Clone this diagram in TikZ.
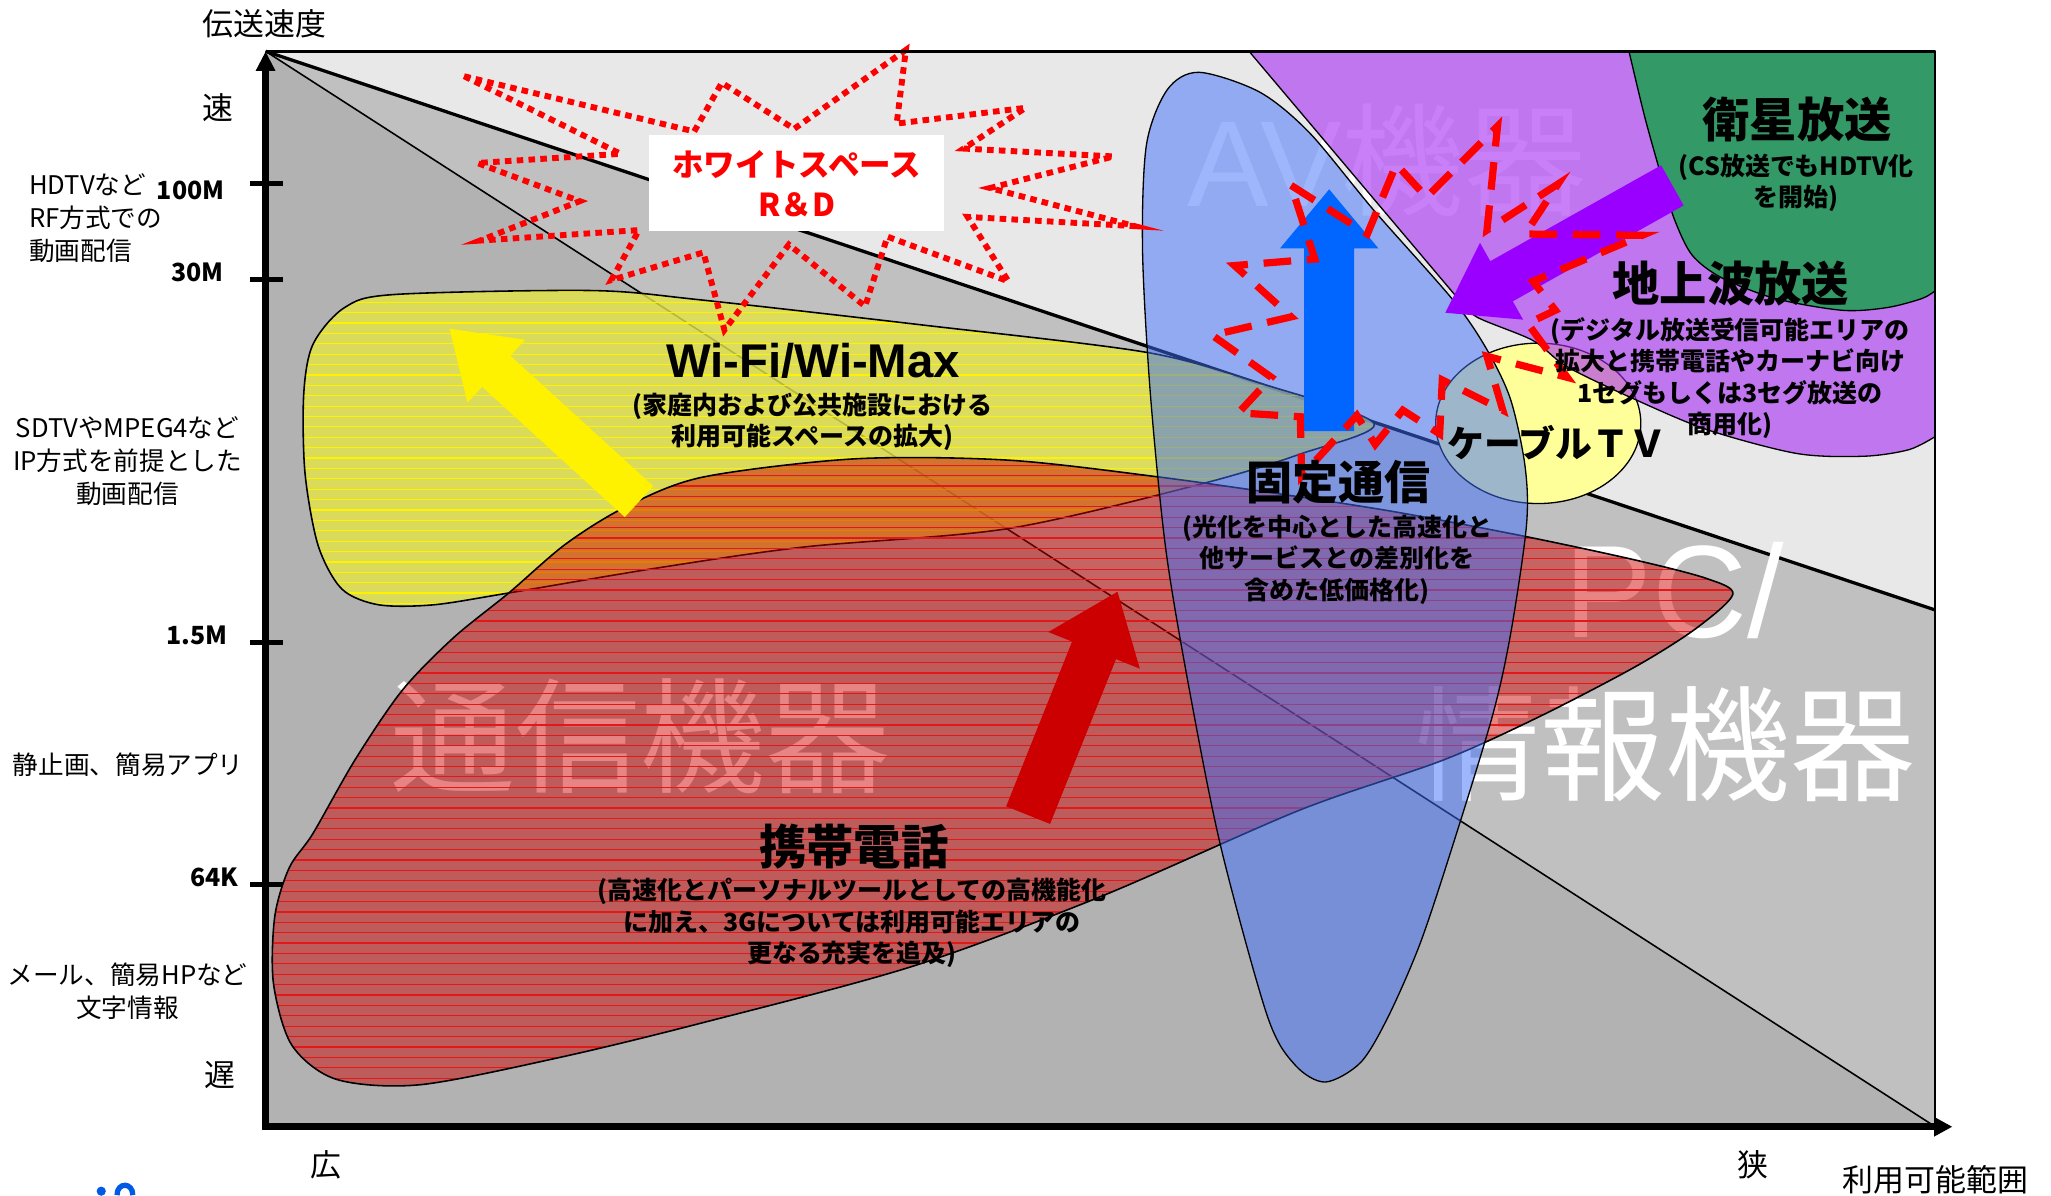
\documentclass[tikz,border=0pt]{standalone}
\usepackage{fontspec}
\setmainfont{Noto Sans CJK JP}
\newfontfamily\latinfont{Liberation Sans}
\usetikzlibrary{arrows.meta}

\definecolor{bglight}{RGB}{232,232,232}
\definecolor{bgmid}{RGB}{192,192,192}
\definecolor{bgdark}{RGB}{178,178,178}
\definecolor{wifiyellow}{RGB}{228,228,70}
\definecolor{mobilered}{RGB}{205,0,0}
\definecolor{stripered}{RGB}{225,25,25}
\definecolor{fixedblue}{RGB}{60,110,250}
\definecolor{avpurple}{RGB}{165,42,242}
\definecolor{satgreen}{RGB}{51,153,102}
\definecolor{cablecream}{RGB}{255,255,153}
\definecolor{arrowred}{RGB}{204,0,0}
\definecolor{arrowblue}{RGB}{0,102,255}
\definecolor{arrowpurple}{RGB}{153,0,255}
\definecolor{logoblue}{RGB}{0,90,230}

\tikzset{
  axistext/.style={font=\fontsize{23.5}{28}\selectfont, inner sep=0pt},
  sidetext/.style={font=\fontsize{19.5}{25}\selectfont, inner sep=0pt, align=center},
  ticktext/.style={font=\bfseries\fontsize{19}{22}\selectfont, inner sep=0pt},
  headtext/.style={font=\bfseries\fontsize{36}{40}\selectfont, inner sep=0pt},
  notetext/.style={font=\bfseries\fontsize{19}{24}\selectfont, inner sep=0pt, align=center},
  watermark/.style={text=white, inner sep=0pt, font=\fontsize{95}{95}\selectfont},
  region/.style={draw=black, line width=1.2pt},
  burst/.style={draw=red, line width=4.5pt, dash pattern=on 5pt off 4pt, line join=miter, miter limit=10},
  bigburst/.style={draw=red, line width=5.5pt, dash pattern=on 21pt off 12pt, line join=miter},
  redstripe/.style={draw=stripered, line width=0.9pt},
  yellowstripe/.style={draw=yellow, line width=0.9pt},
  axisline/.style={line width=5pt, line join=miter},
}

% tail x, tail y, angle, length, shaft half, head half, head length, colour
\newcommand{\fatarrow}[8]{%
  \fill[#8, shift={(#1,#2)}, rotate=#3]
    (0,-#5) -- ({#4-#7},-#5) -- ({#4-#7},-#6) -- (#4,0) -- ({#4-#7},#6) -- ({#4-#7},#5) -- (0,#5) -- cycle;}

\def\wifiblob{plot[smooth cycle] coordinates {(300,224) (450,221) (532,228) (700,247) (872,268) (960,292) (1045,322) (990,345) (914,368) (767,402) (612,416) (500,432) (387,451) (330,460) (288,460) (260,448) (242,415) (232,360) (231,300) (238,262) (262,234)}}
\def\mobileblob{plot[smooth cycle] coordinates {(1318,452) (1290,478) (1244,507) (1171,545) (1098,578) (989,616) (837,682) (694,735) (534,778) (427,804) (320,825) (256,821) (222,795) (208,748) (209,697) (220,660) (238,634) (270,578) (306,525) (345,485) (387,451) (430,414) (475,386) (534,363) (650,349) (767,350) (883,363) (989,378) (1065,390) (1160,408) (1244,426) (1298,440)}}
\def\fixedblob{plot[smooth cycle] coordinates {(912,55) (958,70) (996,101) (1045,160) (1105,228) (1131,266) (1149,304) (1160,355) (1161,400) (1149,482) (1135,545) (1104,646) (1080,718) (1056,773) (1035,808) (1008,823) (985,810) (964,773) (929,646) (906,532) (887,420) (875,300) (869,190) (872,110) (888,68)}}

\begin{document}
\begin{tikzpicture}[x=1pt, y=-1pt]
\useasboundingbox (0,0) rectangle (1560,909);

% background
\fill[bglight] (202,39) rectangle (1472,857);
\fill[bgmid] (202,39) -- (1472,464) -- (1472,857) -- cycle;
\fill[bgdark] (202,39) -- (1472,857) -- (202,857) -- cycle;
\draw[line width=2.5pt] (202,39) -- (1472,464);
\draw[line width=1.2pt] (202,39) -- (1472,857);

% watermarks
\node[watermark] (commwm) at (487,560) {通信機器};
\node[watermark, anchor=base west, font=\latinfont\fontsize{100}{100}\selectfont] (pcwm) at (1190,485) {PC/};
\node[watermark] (infowm) at (1267,566) {情報機器};
\node[watermark, font=\fontsize{93}{93}\selectfont] (avwm) at (1055,122) {{\latinfont AV}機器};

% broadcast areas
\filldraw[cablecream, draw=black, line width=1pt] (1170,322) ellipse [x radius=78pt, y radius=61pt];
\filldraw[fill=avpurple, fill opacity=0.6, draw=black, line width=1pt] (950,39) -- (1472,39) -- (1472,332)
  -- plot[smooth] coordinates {(1472,332) (1452,342) (1418,347) (1367,345) (1299,327) (1244,304) (1192,279) (1166,259) (1123,241) (1108,226)} -- cycle;
\filldraw[fill=satgreen, draw=black, line width=1pt] (1239,39)
  -- plot[smooth] coordinates {(1239,39) (1251,89) (1265,139) (1274,168) (1287,194) (1309,211) (1350,227) (1401,236) (1435,234) (1462,227) (1472,221)} -- (1472,39) -- cycle;

% Wi-Fi
\fill[wifiyellow, fill opacity=0.8] \wifiblob;
\begin{scope}
  \clip \wifiblob;
  \foreach \yy in {222,229.9,...,464} \draw[yellowstripe] (225,\yy) -- (1050,\yy);
\end{scope}
\draw[region] \wifiblob;

% mobile
\fill[mobilered, fill opacity=0.48] \mobileblob;
\begin{scope}
  \clip \mobileblob;
  \foreach \yy in {346,353.9,...,830} \draw[redstripe] (200,\yy) -- (1330,\yy);
\end{scope}
\draw[region] \mobileblob;

% fixed line
\fill[fixedblue, fill opacity=0.5] \fixedblob;
\draw[region, line width=1pt] \fixedblob;

% arrows
\fatarrow{486}{381.5}{137.6}{195}{16}{32.5}{48}{yellow}
\fatarrow{782}{620}{68.2}{183}{18}{37.5}{48}{arrowred}
\fatarrow{1011}{328}{90}{184}{19}{37.5}{45}{arrowblue}
\fatarrow{1272}{141}{209.3}{198}{17.5}{33.5}{49}{arrowpurple}

% bursts
\draw[burst] (353,58) -- (528,100) -- (549,63) -- (604,98) -- (689,38) -- (682,94) -- (780,82) -- (733,113)
  -- (847,119) -- (753,143) -- (863,172) -- (736,165) -- (767,214) -- (675,180) -- (658,233) -- (600,186)
  -- (551,251) -- (535,192) -- (465,213) -- (486,175) -- (365,183) -- (441,153) -- (363,124) -- (472,117) -- cycle;
\draw[bigburst] (982,141) -- (1040,178) -- (1062,125) -- (1085,150) -- (1139,96) -- (1131,175) -- (1185,140)
  -- (1160,178) -- (1249,179) -- (1166,214) -- (1183,236) -- (1162,246) -- (1192,287) -- (1131,271)
  -- (1143,312) -- (1097,289) -- (1095,330) -- (1067,312) -- (1046,338) -- (1032,316) -- (990,362)
  -- (989,317) -- (942,314) -- (967,287) -- (922,255) -- (982,241) -- (939,202) -- (1000,197) -- cycle;

\node[fill=white, minimum width=224pt, minimum height=73pt, align=center, text=red,
  font=\bfseries\fontsize{24}{30.5}\selectfont] (whitespace) at (606,139.5) {ホワイトスペース\\R＆D};

% labels
\node[headtext, font=\latinfont\bfseries\fontsize{36}{40}\selectfont] (wifi) at (618.5,274.5) {Wi-Fi/Wi-Max};
\node[notetext] (wifinote) at (618,321) {(家庭内および公共施設における\\利用可能スペースの拡大)};
\node[headtext, font=\bfseries\fontsize{35}{40}\selectfont] (fixed) at (1018,367) {固定通信};
\node[notetext] (fixednote) at (1017,425.5) {(光化を中心とした高速化と\\他サービスとの差別化を\\含めた低価格化)};
\node[headtext, font=\bfseries\fontsize{28}{32}\selectfont] (cable) at (1184,336.5) {ケーブルＴＶ};
\node[headtext] (sat) at (1367,91) {衛星放送};
\node[notetext] (satnote) at (1366,139) {(CS放送でもHDTV化\\を開始)};
\node[headtext] (terr) at (1316.5,216) {地上波放送};
\node[notetext] (terrnote) at (1316,287.5) {(デジタル放送受信可能エリアの\\拡大と携帯電話やカーナビ向け\\1セグもしくは3セグ放送の\\商用化)};
\node[headtext] (mobile) at (649.5,644) {携帯電話};
\node[notetext] (mobilenote) at (648,702) {(高速化とパーソナルツールとしての高機能化\\に加え、3Gについては利用可能エリアの\\更なる充実を追及)};

% frame and axes
\draw[line width=2.5pt] (202,39) -- (1472,39);
\draw[line width=1.5pt] (1472,39) -- (1472,857);
\draw[axisline, {Triangle[length=15pt,width=14pt]}-{Triangle[length=14pt,width=14pt]}] (202,39) -- (202,857) -- (1485,857);
\foreach \ty in {139.5,212.5,488.5,673} \draw[line width=4pt] (190,\ty) -- (215,\ty);

\node[axistext] (speed) at (201,18) {伝送速度};
\node[axistext] (fast) at (166,82) {速};
\node[axistext] (slow) at (167,817.5) {遅};
\node[axistext] (wide) at (248,886) {広};
\node[axistext] (narrow) at (1333,886) {狭};
\node[axistext] (range) at (1472,897) {利用可能範囲};

\node[ticktext] (t100m) at (145,145) {100M};
\node[ticktext] (t30m) at (150,207) {30M};
\node[ticktext] (t15m) at (150,483) {1.5M};
\node[ticktext] (t64k) at (163,667) {64K};

\node[sidetext, align=left, anchor=west] (hdtv) at (22,166) {HDTVなど\\RF方式での\\動画配信};
\node[sidetext] (sdtv) at (97,350.5) {SDTVやMPEG4など\\IP方式を前提とした\\動画配信};
\node[sidetext] (still) at (97.5,582) {静止画、簡易アプリ};
\node[sidetext] (mail) at (97,754) {メール、簡易HPなど\\文字情報};

% logo fragment
\fill[logoblue] (77,906) circle (3.5pt);
\draw[logoblue, line width=4pt] (89,909) .. controls (89,899) and (101,899) .. (101,909);
\end{tikzpicture}
\end{document}
